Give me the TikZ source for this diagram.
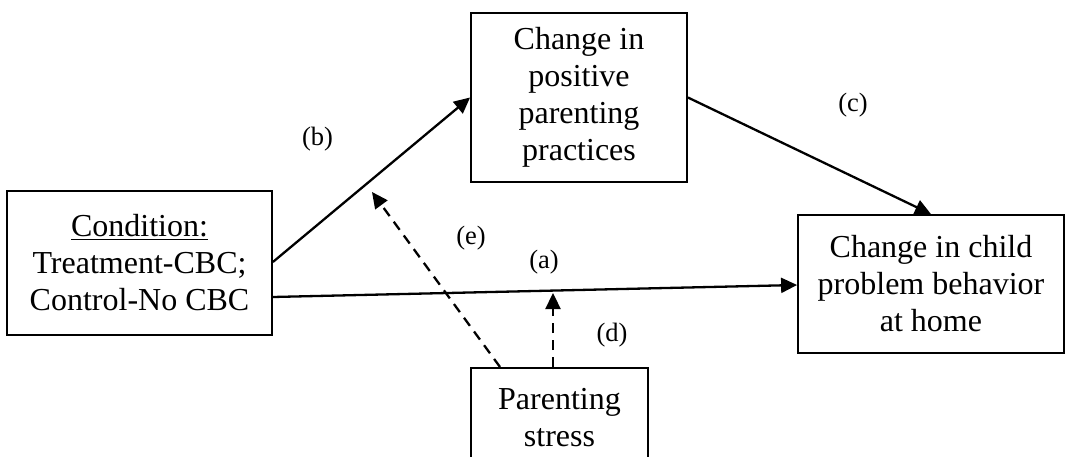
\documentclass[tikz,border=0pt]{standalone}
\usepackage{fontspec}
\setmainfont{Liberation Serif}
\usetikzlibrary{arrows.meta}
\begin{document}
\begin{tikzpicture}[x=1pt,y=1pt,
  box/.style={draw, line width=1.8pt, inner sep=0pt, align=center, font=\fontsize{32}{37}\selectfont},
  lbl/.style={font=\fontsize{26.5}{30}\selectfont, inner sep=0pt},
  arr/.style={line width=2.3pt, -{Triangle[length=16pt,width=15pt]}},
  darr/.style={arr, dash pattern=on 10pt off 7pt}]
\useasboundingbox (0,0) rectangle (1071,-457);
\clip (0,0) rectangle (1071,-457);
\node[box, minimum width=265pt, minimum height=144pt] (cond) at (139.5,-263)
  {\underline{Condition:}\\Treatment-CBC;\\Control-No CBC};
\node[box, minimum width=216pt, minimum height=169pt] (pos) at (579,-97.5)
  {Change in\\positive\\parenting\\practices};
\node[box, minimum width=266pt, minimum height=138pt] (child) at (931,-284)
  {Change in child\\problem behavior\\at home};
\node[box, minimum width=177pt, minimum height=100pt, anchor=north] (stress) at (559.5,-367)
  {Parenting\\stress};
\coordinate (dtip) at (553,-293);
\coordinate (etip) at (372,-192);
\draw[arr] ([yshift=-34pt]cond.east) -- ([yshift=-1pt]child.west);
\draw[arr] ([yshift=1pt]cond.east) -- (pos.west);
\draw[arr] (pos.east) -- (child.north);
\draw[darr] ([xshift=-6.5pt]stress.north) -- (dtip);
\draw[darr] ([xshift=-59.5pt]stress.north) -- (etip);
\node[lbl] (la) at (544,-262) {(a)};
\node[lbl] (lb) at (317.5,-139) {(b)};
\node[lbl] (lc) at (853,-105) {(c)};
\node[lbl] (ld) at (612,-335) {(d)};
\node[lbl] (le) at (471,-238) {(e)};
\end{tikzpicture}
\end{document}
